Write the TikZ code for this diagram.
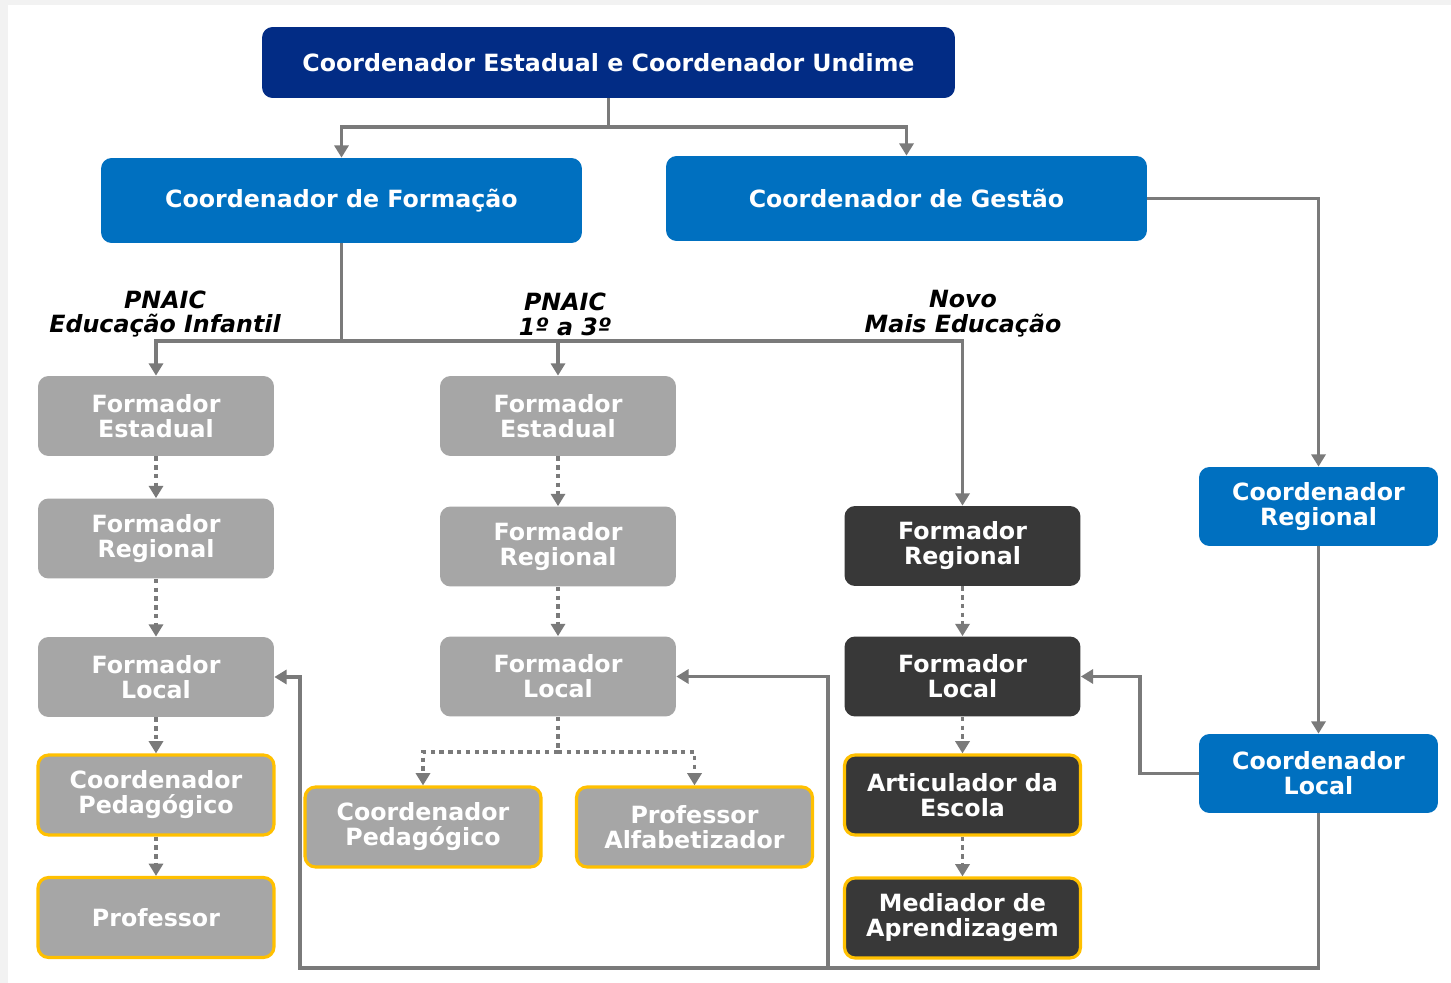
\documentclass[tikz,border=0pt]{standalone}
\usepackage{fontspec}
\setmainfont{DejaVu Sans}
\usetikzlibrary{arrows.meta}
\definecolor{marinho}{HTML}{022C85}
\definecolor{azul}{HTML}{0070C0}
\definecolor{cinza}{HTML}{A6A6A6}
\definecolor{escuro}{HTML}{383838}
\definecolor{amarelo}{HTML}{FFC000}
\definecolor{linha}{HTML}{7A7A7A}
\definecolor{fundo}{HTML}{F2F2F2}
\tikzset{
	box/.style={rounded corners=6pt,text=white,align=center,inner sep=0pt,
		font=\bfseries\fontsize{13.5}{14.2}\selectfont},
	topo/.style={box,fill=marinho,minimum width=13.86cm,minimum height=1.42cm},
	chefe/.style={box,fill=azul,minimum width=9.62cm,minimum height=1.7cm},
	coord/.style={box,fill=azul,minimum width=4.78cm,minimum height=1.58cm},
	cargo/.style={box,fill=cinza,minimum width=4.72cm,minimum height=1.6cm},
	novo/.style={box,fill=escuro,minimum width=4.72cm,minimum height=1.6cm},
	ponta/.style={draw=amarelo,line width=1.8pt},
	prog/.style={align=center,font=\bfseries\itshape\fontsize{13.5}{14.2}\selectfont},
	liga/.style={draw=linha,line width=2.2pt,-{Triangle[width=8pt,length=7pt]}},
	pont/.style={liga,dash pattern=on 2.5pt off 2.5pt}
}
\begin{document}
\begin{tikzpicture}[x=0.02cm,y=-0.02cm]
	\fill[fundo] (0,0) rectangle (1451,983);
	\fill[white] (8,5) rectangle (1451,983);
	\useasboundingbox (0,0) rectangle (1451,983);
	\node[topo] (top) at (608.5,62.5) {Coordenador Estadual e Coordenador Undime};
	\node[chefe] (form) at (341.5,200.5) {Coordenador de Formação};
	\node[chefe] (gest) at (906.5,198.5) {Coordenador de Gestão};
	\node[prog] (pi) at (165,314) {PNAIC\\Educação Infantil};
	\node[prog] (pf) at (565,314) {PNAIC\\1º a 3º};
	\node[prog] (nm) at (963,314) {Novo\\Mais Educação};
	\node[cargo] (fe1) at (156,416) {Formador\\Estadual};
	\node[cargo] (fr1) at (156,538.5) {Formador\\Regional};
	\node[cargo] (fl1) at (156,677) {Formador\\Local};
	\node[cargo,ponta] (cp1) at (156,795) {Coordenador\\Pedagógico};
	\node[cargo,ponta] (pr1) at (156,917.5) {Professor};
	\node[cargo] (fe2) at (558,416) {Formador\\Estadual};
	\node[cargo] (fr2) at (558,546.5) {Formador\\Regional};
	\node[cargo] (fl2) at (558,676.5) {Formador\\Local};
	\node[cargo,ponta] (cp2) at (423,827) {Coordenador\\Pedagógico};
	\node[cargo,ponta] (pa2) at (694.5,827) {Professor\\Alfabetizador};
	\node[novo] (fr3) at (962.5,546) {Formador\\Regional};
	\node[novo] (fl3) at (962.5,676.5) {Formador\\Local};
	\node[novo,ponta] (ar3) at (962.5,795) {Articulador da\\Escola};
	\node[novo,ponta] (me3) at (962.5,918) {Mediador de\\Aprendizagem};
	\node[coord] (cr) at (1318.5,506.5) {Coordenador\\Regional};
	\node[coord] (cl) at (1318.5,773.5) {Coordenador\\Local};
	\coordinate (t) at (608.5,127);
	\coordinate (f) at (341.5,341);
	\coordinate (s) at (558,752);
	\coordinate (b1) at (300,968);
	\coordinate (b2) at (828,968);
	\draw[liga,-] (top.south) -- (t);
	\draw[liga] (t) -| (form.north);
	\draw[liga] (t) -| (gest.north);
	\draw[liga,-] (form.south) -- (f);
	\draw[liga] (f) -| (fe1.north);
	\draw[liga] (f) -| (fe2.north);
	\draw[liga] (f) -| (fr3.north);
	\draw[liga] (gest.east) -| (cr.north);
	\draw[liga] (cr.south) -- (cl.north);
	\draw[liga] (cl.west) -- ++(-59,0) |- (fl3.east);
	\draw[liga] (cl.south) |- (b1) |- (fl1.east);
	\draw[liga] (b2) |- (fl2.east);
	\draw[pont] (fe1) -- (fr1);
	\draw[pont] (fr1) -- (fl1);
	\draw[pont] (fl1) -- (cp1);
	\draw[pont] (cp1) -- (pr1);
	\draw[pont] (fe2) -- (fr2);
	\draw[pont] (fr2) -- (fl2);
	\draw[pont,-] (fl2) -- (s);
	\draw[pont] (s) -| (cp2.north);
	\draw[pont] (s) -| (pa2.north);
	\draw[pont] (fr3) -- (fl3);
	\draw[pont] (fl3) -- (ar3);
	\draw[pont] (ar3) -- (me3);
\end{tikzpicture}
\end{document}
